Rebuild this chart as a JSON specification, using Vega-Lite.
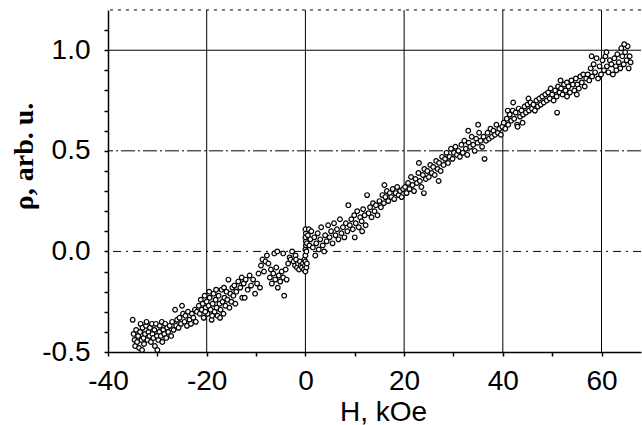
{
  "$schema": "https://vega.github.io/schema/vega-lite/v6.json",
  "autosize": "none",
  "padding": {"left": 108, "top": 10, "right": 1, "bottom": 73},
  "width": 533,
  "height": 342,
  "config": {"view": {"stroke": null}, "font": "Liberation Sans"},
  "datasets": {
    "vgrid": [{"h": -20}, {"h": 0}, {"h": 20}, {"h": 40}, {"h": 60}],
    "top": [{"r": 1.2}],
    "one": [{"r": 1.0}],
    "half": [{"r": 0.5}],
    "zero": [{"r": 0.0}],
    "pts": [
{"h":-35.0,"r":-0.34},{"h":-34.8,"r":-0.41},{"h":-34.6,"r":-0.44},{"h":-34.5,"r":-0.47},{"h":-34.3,"r":-0.39},{"h":-34.1,"r":-0.45},{"h":-33.9,"r":-0.42},{"h":-33.7,"r":-0.48},{"h":-33.5,"r":-0.40},{"h":-33.4,"r":-0.36},{"h":-33.2,"r":-0.44},{"h":-33.1,"r":-0.49},{"h":-33.0,"r":-0.38},{"h":-32.8,"r":-0.43},{"h":-32.7,"r":-0.46},{"h":-32.5,"r":-0.41},{"h":-32.3,"r":-0.37},{"h":-32.2,"r":-0.35},{"h":-32.0,"r":-0.44},{"h":-31.8,"r":-0.40},{"h":-31.6,"r":-0.42},{"h":-31.5,"r":-0.38},{"h":-31.3,"r":-0.45},{"h":-31.1,"r":-0.36},{"h":-31.0,"r":-0.41},{"h":-30.8,"r":-0.43},{"h":-30.6,"r":-0.39},{"h":-30.5,"r":-0.47},{"h":-30.3,"r":-0.36},{"h":-30.1,"r":-0.42},{"h":-30.0,"r":-0.49},{"h":-29.8,"r":-0.44},{"h":-29.6,"r":-0.40},{"h":-29.5,"r":-0.37},{"h":-29.3,"r":-0.42},{"h":-29.1,"r":-0.35},{"h":-29.0,"r":-0.45},{"h":-28.8,"r":-0.39},{"h":-28.6,"r":-0.41},{"h":-28.4,"r":-0.36},{"h":-28.2,"r":-0.43},{"h":-28.0,"r":-0.38},
{"h":-27.8,"r":-0.40},{"h":-27.5,"r":-0.37},{"h":-27.2,"r":-0.42},{"h":-27.0,"r":-0.35},{"h":-26.7,"r":-0.39},{"h":-26.4,"r":-0.29},{"h":-26.2,"r":-0.37},{"h":-26.0,"r":-0.34},{"h":-25.7,"r":-0.38},{"h":-25.5,"r":-0.33},{"h":-25.2,"r":-0.36},{"h":-25.0,"r":-0.27},{"h":-24.8,"r":-0.31},{"h":-24.5,"r":-0.35},{"h":-24.3,"r":-0.32},{"h":-24.0,"r":-0.37},{"h":-23.8,"r":-0.30},{"h":-23.5,"r":-0.34},{"h":-23.2,"r":-0.36},{"h":-23.0,"r":-0.31},{"h":-22.7,"r":-0.33},{"h":-22.4,"r":-0.29},{"h":-22.2,"r":-0.35},{"h":-22.0,"r":-0.30},
{"h":-21.6,"r":-0.27},{"h":-21.4,"r":-0.31},{"h":-21.2,"r":-0.24},{"h":-21.0,"r":-0.29},{"h":-20.8,"r":-0.26},{"h":-20.6,"r":-0.33},{"h":-20.4,"r":-0.22},{"h":-20.2,"r":-0.28},{"h":-20.0,"r":-0.25},{"h":-19.8,"r":-0.31},{"h":-19.6,"r":-0.27},{"h":-19.4,"r":-0.23},{"h":-19.2,"r":-0.29},{"h":-19.0,"r":-0.34},{"h":-18.8,"r":-0.26},{"h":-18.6,"r":-0.21},{"h":-18.4,"r":-0.30},{"h":-18.2,"r":-0.24},{"h":-18.0,"r":-0.28},{"h":-17.8,"r":-0.32},{"h":-17.6,"r":-0.22},{"h":-17.4,"r":-0.26},{"h":-17.2,"r":-0.29},{"h":-17.0,"r":-0.19},{"h":-16.8,"r":-0.25},{"h":-16.6,"r":-0.31},{"h":-16.4,"r":-0.23},{"h":-16.2,"r":-0.27},{"h":-16.0,"r":-0.20},{"h":-15.8,"r":-0.24},{"h":-15.6,"r":-0.14},{"h":-15.4,"r":-0.28},{"h":-15.2,"r":-0.21},{"h":-15.0,"r":-0.25},{"h":-14.8,"r":-0.18},{"h":-14.6,"r":-0.22},{"h":-14.4,"r":-0.17},{"h":-14.2,"r":-0.26},{"h":-14.0,"r":-0.20},{"h":-20.3,"r":-0.30},{"h":-19.5,"r":-0.20},{"h":-18.9,"r":-0.32},{"h":-18.1,"r":-0.19},{"h":-17.3,"r":-0.33},{"h":-16.5,"r":-0.18},{"h":-12.8,"r":-0.23},{"h":-12.3,"r":-0.23},
{"h":-13.6,"r":-0.15},{"h":-13.2,"r":-0.18},{"h":-12.9,"r":-0.13},{"h":-12.5,"r":-0.16},{"h":-12.1,"r":-0.14},{"h":-11.7,"r":-0.19},{"h":-11.3,"r":-0.12},{"h":-11.0,"r":-0.17},{"h":-10.6,"r":-0.14},{"h":-10.2,"r":-0.21},{"h":-9.8,"r":-0.16},{"h":-9.5,"r":-0.11},{"h":-9.2,"r":-0.18},
{"h":-9.0,"r":-0.07},{"h":-8.7,"r":-0.04},{"h":-8.4,"r":-0.10},{"h":-8.1,"r":-0.05},{"h":-7.8,"r":-0.02},{"h":-7.5,"r":-0.06},{"h":-7.2,"r":-0.13},{"h":-7.0,"r":-0.09},{"h":-6.8,"r":-0.16},{"h":-6.5,"r":-0.11},{"h":-6.3,"r":-0.01},{"h":-6.1,"r":-0.14},{"h":-5.9,"r":-0.08},{"h":-5.6,"r":-0.18},{"h":-5.4,"r":-0.12},{"h":-5.1,"r":-0.15},{"h":-4.8,"r":-0.10},{"h":-4.5,"r":-0.13},{"h":-4.3,"r":-0.22},{"h":-4.0,"r":-0.09},{"h":-3.8,"r":-0.14},{"h":-3.5,"r":-0.06},{"h":-3.2,"r":-0.03},{"h":-3.0,"r":-0.04},{"h":-5.7,"r":0.0},{"h":-4.5,"r":-0.01},{"h":-2.7,"r":0.0},{"h":-2.0,"r":-0.02},
{"h":-2.4,"r":-0.05},{"h":-2.1,"r":-0.07},{"h":-1.9,"r":-0.04},{"h":-1.7,"r":-0.08},{"h":-1.5,"r":-0.06},{"h":-1.3,"r":-0.09},{"h":-1.1,"r":-0.05},{"h":-0.9,"r":-0.07},{"h":-0.7,"r":-0.08},{"h":-0.5,"r":-0.06},{"h":-0.3,"r":-0.09},{"h":-0.2,"r":-0.04},{"h":-0.1,"r":-0.07},{"h":0.0,"r":-0.10},{"h":0.0,"r":-0.05},{"h":0.0,"r":-0.02},{"h":0.0,"r":0.01},{"h":0.1,"r":0.03},{"h":0.1,"r":0.05},{"h":0.0,"r":0.07},{"h":0.1,"r":0.09},{"h":0.0,"r":0.11},{"h":0.2,"r":-0.08},{"h":0.3,"r":-0.06},{"h":0.2,"r":0.0},{"h":0.3,"r":0.04},{"h":0.5,"r":0.08},{"h":0.7,"r":0.11},{"h":0.8,"r":0.03},{"h":1.0,"r":0.06},{"h":1.2,"r":0.10},
{"h":1.5,"r":0.02},{"h":1.8,"r":0.07},{"h":2.0,"r":-0.02},{"h":2.2,"r":0.04},{"h":2.5,"r":0.09},{"h":2.7,"r":0.01},{"h":3.0,"r":0.06},{"h":3.2,"r":0.12},{"h":3.5,"r":0.03},{"h":3.8,"r":0.0},{"h":4.0,"r":0.08},{"h":4.3,"r":0.05},{"h":4.6,"r":0.13},{"h":4.9,"r":0.07},{"h":5.2,"r":0.10},{"h":5.5,"r":0.04},{"h":5.8,"r":0.14},{"h":6.1,"r":0.08},{"h":6.4,"r":0.11},{"h":6.7,"r":0.06},{"h":7.0,"r":0.16},{"h":7.3,"r":0.09},{"h":7.6,"r":0.12},{"h":7.9,"r":0.07},{"h":8.2,"r":0.14},{"h":8.5,"r":0.10},{"h":8.7,"r":0.23},{"h":9.0,"r":0.13},
{"h":9.3,"r":0.16},{"h":9.6,"r":0.11},{"h":9.9,"r":0.18},{"h":10.2,"r":0.14},{"h":10.5,"r":0.20},{"h":10.8,"r":0.12},{"h":11.1,"r":0.17},{"h":11.4,"r":0.15},{"h":11.7,"r":0.21},{"h":12.0,"r":0.18},{"h":12.2,"r":0.13},{"h":12.5,"r":0.28},{"h":12.8,"r":0.19},{"h":13.1,"r":0.22},{"h":13.4,"r":0.17},{"h":13.7,"r":0.24},{"h":14.0,"r":0.20},{"h":14.3,"r":0.23},{"h":14.6,"r":0.18},{"h":10.0,"r":0.07},{"h":11.5,"r":0.10},
{"h":15.0,"r":0.25},{"h":15.3,"r":0.22},{"h":15.6,"r":0.28},{"h":15.9,"r":0.24},{"h":16.2,"r":0.27},{"h":16.5,"r":0.30},{"h":16.8,"r":0.25},{"h":17.1,"r":0.29},{"h":17.4,"r":0.27},{"h":17.7,"r":0.31},{"h":18.0,"r":0.26},{"h":18.3,"r":0.29},{"h":18.6,"r":0.32},{"h":18.9,"r":0.28},{"h":19.2,"r":0.30},{"h":19.5,"r":0.27},{"h":19.8,"r":0.31},{"h":16.0,"r":0.33},
{"h":20.2,"r":0.32},{"h":20.5,"r":0.29},{"h":20.8,"r":0.34},{"h":21.1,"r":0.31},{"h":21.4,"r":0.37},{"h":21.7,"r":0.33},{"h":22.0,"r":0.30},{"h":22.3,"r":0.36},{"h":22.6,"r":0.34},{"h":22.9,"r":0.39},{"h":23.2,"r":0.35},{"h":23.5,"r":0.32},{"h":23.8,"r":0.38},{"h":24.1,"r":0.41},{"h":24.4,"r":0.36},{"h":24.7,"r":0.40},{"h":25.0,"r":0.37},{"h":25.3,"r":0.43},{"h":25.6,"r":0.39},{"h":25.9,"r":0.42},{"h":26.2,"r":0.38},{"h":26.5,"r":0.45},{"h":26.8,"r":0.41},{"h":27.1,"r":0.44},{"h":27.4,"r":0.40},{"h":27.7,"r":0.47},{"h":28.0,"r":0.43},{"h":28.3,"r":0.46},{"h":28.6,"r":0.49},{"h":28.9,"r":0.44},{"h":29.2,"r":0.47},{"h":29.5,"r":0.51},{"h":29.8,"r":0.46},{"h":30.1,"r":0.49},{"h":30.4,"r":0.52},{"h":30.7,"r":0.48},{"h":23.0,"r":0.44},{"h":24.0,"r":0.29},{"h":27.0,"r":0.35},
{"h":31.0,"r":0.50},{"h":31.3,"r":0.47},{"h":31.6,"r":0.53},{"h":31.9,"r":0.49},{"h":32.2,"r":0.55},{"h":32.5,"r":0.51},{"h":32.8,"r":0.48},{"h":33.1,"r":0.54},{"h":33.4,"r":0.52},{"h":33.7,"r":0.57},{"h":34.0,"r":0.53},{"h":34.3,"r":0.50},{"h":34.6,"r":0.56},{"h":34.9,"r":0.54},{"h":35.2,"r":0.59},{"h":35.5,"r":0.55},{"h":35.8,"r":0.52},{"h":36.1,"r":0.57},{"h":36.3,"r":0.46},{"h":36.6,"r":0.55},{"h":36.9,"r":0.59},{"h":37.2,"r":0.56},{"h":37.5,"r":0.61},{"h":37.8,"r":0.57},{"h":38.1,"r":0.60},{"h":38.4,"r":0.58},{"h":38.7,"r":0.63},{"h":39.0,"r":0.59},{"h":39.3,"r":0.61},{"h":39.6,"r":0.58},{"h":39.9,"r":0.62},{"h":35.0,"r":0.63},{"h":33.0,"r":0.60},
{"h":40.2,"r":0.64},{"h":40.5,"r":0.61},{"h":40.8,"r":0.66},{"h":41.1,"r":0.63},{"h":41.4,"r":0.68},{"h":41.7,"r":0.65},{"h":42.0,"r":0.70},{"h":42.1,"r":0.74},{"h":42.3,"r":0.66},{"h":42.6,"r":0.69},{"h":42.9,"r":0.63},{"h":43.2,"r":0.71},{"h":43.5,"r":0.67},{"h":43.8,"r":0.70},{"h":44.1,"r":0.68},{"h":44.4,"r":0.72},{"h":44.7,"r":0.69},{"h":45.0,"r":0.73},{"h":45.2,"r":0.76},{"h":45.3,"r":0.70},{"h":45.6,"r":0.74},{"h":45.9,"r":0.71},{"h":46.2,"r":0.73},{"h":46.5,"r":0.70},{"h":46.8,"r":0.75},{"h":47.1,"r":0.72},{"h":47.4,"r":0.76},{"h":47.7,"r":0.73},{"h":48.0,"r":0.77},{"h":41.0,"r":0.70},{"h":43.0,"r":0.62},{"h":44.0,"r":0.64},
{"h":48.3,"r":0.74},{"h":48.6,"r":0.78},{"h":48.9,"r":0.75},{"h":49.2,"r":0.79},{"h":49.5,"r":0.76},{"h":49.7,"r":0.81},{"h":50.0,"r":0.78},{"h":50.3,"r":0.75},{"h":50.6,"r":0.80},{"h":50.9,"r":0.77},{"h":51.0,"r":0.69},{"h":51.2,"r":0.82},{"h":51.5,"r":0.79},{"h":51.7,"r":0.85},{"h":51.8,"r":0.81},{"h":52.1,"r":0.78},{"h":52.4,"r":0.83},{"h":52.7,"r":0.80},{"h":53.0,"r":0.84},{"h":53.3,"r":0.82},{"h":53.6,"r":0.79},{"h":53.9,"r":0.85},{"h":54.2,"r":0.83},{"h":54.5,"r":0.80},{"h":54.8,"r":0.86},{"h":55.1,"r":0.83},{"h":55.4,"r":0.81},{"h":55.7,"r":0.87},{"h":56.0,"r":0.84},{"h":56.3,"r":0.88},{"h":56.6,"r":0.82},{"h":56.9,"r":0.86},{"h":53.0,"r":0.77},{"h":55.0,"r":0.78},
{"h":57.2,"r":0.88},{"h":57.5,"r":0.85},{"h":57.8,"r":0.91},{"h":58.1,"r":0.87},{"h":58.4,"r":0.93},{"h":58.7,"r":0.89},{"h":59.0,"r":0.96},{"h":59.3,"r":0.86},{"h":59.6,"r":0.92},{"h":59.9,"r":0.88},{"h":60.2,"r":0.95},{"h":60.5,"r":0.90},{"h":60.8,"r":0.97},{"h":61.1,"r":0.92},{"h":61.4,"r":0.89},{"h":61.7,"r":0.95},{"h":62.0,"r":0.93},{"h":62.3,"r":0.88},{"h":62.6,"r":0.96},{"h":62.9,"r":0.92},{"h":63.2,"r":0.98},{"h":63.5,"r":0.94},{"h":63.8,"r":0.91},{"h":64.0,"r":1.01},{"h":64.2,"r":0.97},{"h":64.5,"r":0.93},{"h":64.8,"r":0.99},{"h":65.1,"r":0.95},{"h":65.3,"r":1.02},{"h":65.5,"r":0.91},{"h":65.7,"r":0.97},{"h":65.9,"r":0.94},{"h":64.6,"r":1.03},{"h":63.0,"r":0.90},{"h":61.0,"r":0.99},{"h":58.0,"r":0.97}
    ]
  },
  "layer": [
    {
      "data": {"name": "vgrid"},
      "mark": {"type": "rule", "color": "black", "strokeWidth": 1},
      "encoding": {"x": {"field": "h", "type": "quantitative"}}
    },
    {
      "data": {"name": "top"},
      "mark": {"type": "rule", "color": "black", "strokeWidth": 1, "strokeDash": [3, 5]},
      "encoding": {"y": {"field": "r", "type": "quantitative"}}
    },
    {
      "data": {"name": "one"},
      "mark": {"type": "rule", "color": "black", "strokeWidth": 1},
      "encoding": {"y": {"field": "r", "type": "quantitative"}}
    },
    {
      "data": {"name": "half"},
      "mark": {"type": "rule", "color": "black", "strokeWidth": 1, "strokeDash": [14, 3, 2, 3]},
      "encoding": {"y": {"field": "r", "type": "quantitative"}}
    },
    {
      "data": {"name": "zero"},
      "mark": {"type": "rule", "color": "black", "strokeWidth": 1, "strokeDash": [8, 5, 2, 5]},
      "encoding": {"y": {"field": "r", "type": "quantitative"}}
    },
    {
      "data": {"name": "pts"},
      "mark": {"type": "point", "shape": "circle", "filled": true, "fill": "white", "stroke": "black", "strokeWidth": 1.2, "size": 22, "opacity": 1},
      "encoding": {
        "x": {
          "field": "h", "type": "quantitative",
          "scale": {"domain": [-40, 68], "nice": false, "zero": false},
          "axis": {
            "title": "H, kOe",
            "titleFont": "Liberation Sans", "titleFontSize": 28, "titleFontWeight": "normal", "titleColor": "black",
            "titleX": 275, "titleY": 68, "titleBaseline": "alphabetic",
            "values": [-40, -30, -20, -10, 0, 10, 20, 30, 40, 50, 60],
            "tickCount": 50,
            "labelExpr": "datum.value % 20 === 0 ? '' + datum.value : ''",
            "labelFont": "Liberation Sans", "labelFontSize": 28, "labelColor": "black", "labelPadding": 11,
            "labelFlush": false, "labelOverlap": false,
            "domainColor": "black", "domainWidth": 1.5,
            "tickColor": "black", "tickWidth": 1.5, "tickSize": 4,
            "grid": false
          }
        },
        "y": {
          "field": "r", "type": "quantitative",
          "scale": {"domain": [-0.5, 1.2], "nice": false, "zero": false},
          "axis": {
            "title": "ρ, arb. u.",
            "titleFont": "Liberation Serif", "titleFontSize": 28, "titleFontWeight": "bold", "titleColor": "black",
            "titleAngle": -90, "titleX": -76, "titleY": 146, "titleBaseline": "alphabetic", "titleAlign": "center",
            "values": [-0.5, -0.4, -0.3, -0.2, -0.1, 0.0, 0.1, 0.2, 0.3, 0.4, 0.5, 0.6, 0.7, 0.8, 0.9, 1.0, 1.1],
            "tickCount": 50,
            "format": ".1f",
            "labelExpr": "(datum.label == '0.0' || datum.label == '0.5' || datum.label == '1.0') ? datum.label : (datum.value < -0.45 ? '-0.5' : '')",
            "labelFont": "Liberation Sans", "labelFontSize": 28, "labelColor": "black", "labelPadding": 14,
            "labelFlush": false, "labelOverlap": false,
            "domainColor": "black", "domainWidth": 1.5,
            "tickColor": "black", "tickWidth": 1.5, "tickSize": 4,
            "grid": false
          }
        }
      }
    }
  ]
}
